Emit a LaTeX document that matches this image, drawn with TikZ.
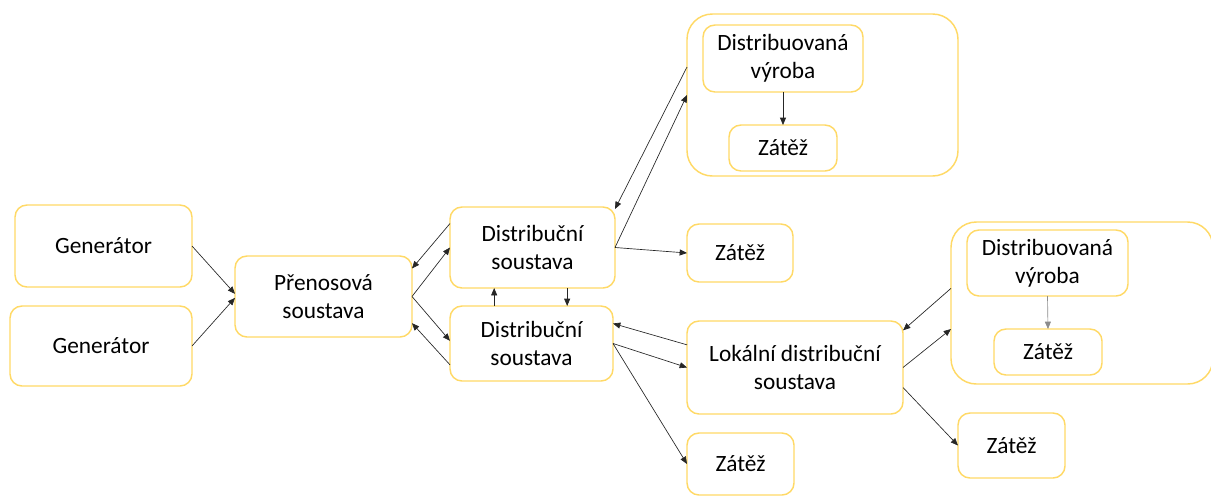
\documentclass[tikz,border=0pt]{standalone}
\usepackage{fontspec}
\setmainfont{Carlito}
\usetikzlibrary{arrows.meta}

\definecolor{boxgold}{RGB}{255,217,102}
\tikzset{
  blok/.style={draw=boxgold, line width=1.1pt, rounded corners=9pt, inner sep=0pt, outer sep=0pt,
    align=center, anchor=north west, font=\fontsize{17.5}{21}\selectfont},
  skupina/.style={blok, rounded corners=19pt},
  sipka/.style={-{Triangle[length=5.5pt,width=4.5pt]}, line width=0.5pt, draw=black!85},
}

\begin{document}
\begin{tikzpicture}[x=0.75pt,y=0.75pt,yscale=-1]
\useasboundingbox (0,0) rectangle (1211,497);

%Rounded Rect [gen1]
\node (gen1) at (15,205) [blok, minimum width=132.75pt, minimum height=61.5pt] {Generátor};
%Rounded Rect [gen2]
\node (gen2) at (10,306) [blok, minimum width=136.5pt, minimum height=60pt] {Generátor};
%Rounded Rect [pren]
\node (pren) at (235,256) [blok, minimum width=132.75pt, minimum height=60.75pt] {Přenosová\\soustava};
%Rounded Rect [dist1]
\node (dist1) at (450,207) [blok, minimum width=123.75pt, minimum height=60.75pt] {Distribuční\\soustava};
%Rounded Rect [dist2]
\node (dist2) at (450,306) [blok, minimum width=122.25pt, minimum height=56.25pt] {Distribuční\\soustava};
%Rounded Rect [zat1]
\node (zat1) at (687,224) [blok, minimum width=79.5pt, minimum height=43.5pt] {Zátěž};
%Rounded Rect [lok]
\node (lok) at (687,321) [blok, minimum width=162pt, minimum height=69.75pt] {Lokální distribuční\\soustava};
%Rounded Rect [zat2]
\node (zat2) at (687,433) [blok, minimum width=80.25pt, minimum height=46.5pt] {Zátěž};
%Rounded Rect [zat5]
\node (zat5) at (958,413) [blok, minimum width=80.25pt, minimum height=48.75pt] {Zátěž};

%Group [grp1]
\node (grp1) at (687,14) [skupina, minimum width=203.25pt, minimum height=121.5pt] {};
\node (dv1) at (703,25) [blok, minimum width=120pt, minimum height=50.25pt] {Distribuovaná\\výroba};
\node (zat3) at (729,125) [blok, minimum width=81pt, minimum height=34.5pt] {Zátěž};
%Group [grp2]
\node (grp2) at (951,222) [skupina, minimum width=196.5pt, minimum height=121.5pt] {};
\node (dv2) at (967,230) [blok, minimum width=120.75pt, minimum height=49.5pt] {Distribuovaná\\výroba};
\node (zat4) at (994,329) [blok, minimum width=81pt, minimum height=34.5pt] {Zátěž};

%Straight Lines (yshift runs downward here, as yscale=-1)
\draw [sipka] (gen1.east) -- ([yshift=-2pt]pren.west);
\draw [sipka] (gen2.east) -- ([yshift=1pt]pren.west);
\draw [sipka] (pren.east) -- (dist1.west);
\draw [sipka] ([yshift=-18pt]dist1.west) -- ([yshift=-21pt]pren.east);
\draw [sipka] (pren.east) -- ([yshift=-2pt]dist2.west);
\draw [sipka] ([yshift=16pt]dist2.west) -- ([yshift=20pt]pren.east);
\draw [sipka] ([xshift=-28pt]dist2.north) -- ([xshift=-28pt]dist2.north |- dist1.south);
\draw [sipka] ([xshift=26pt]dist1.south) -- ([xshift=26pt]dist1.south |- dist2.north);
\draw [sipka] (dist1.east) -- (zat1.west);
\draw [sipka] (dist1.east) -- (grp1.west);
\draw [sipka] ([yshift=-21pt]grp1.west) -- ([yshift=1.5pt]dist1.north east);
\draw [sipka] ([yshift=-17pt]lok.west) -- ([yshift=-15pt]dist2.east);
\draw [sipka] (dist2.east) -- (lok.west);
\draw [sipka] (dist2.east) -- (zat2.west);
\draw [sipka] (lok.east) -- ([yshift=19.5pt]grp2.west);
\draw [sipka] ([yshift=-11pt]grp2.west) -- ([yshift=7pt]lok.north east);
\draw [sipka] ([yshift=15pt]lok.east) -- (zat5.west);
\draw [sipka] (dv1.south) -- (zat3.north);
\draw [sipka, draw=black!45] (dv2.south) -- (zat4.north);

\end{tikzpicture}
\end{document}
